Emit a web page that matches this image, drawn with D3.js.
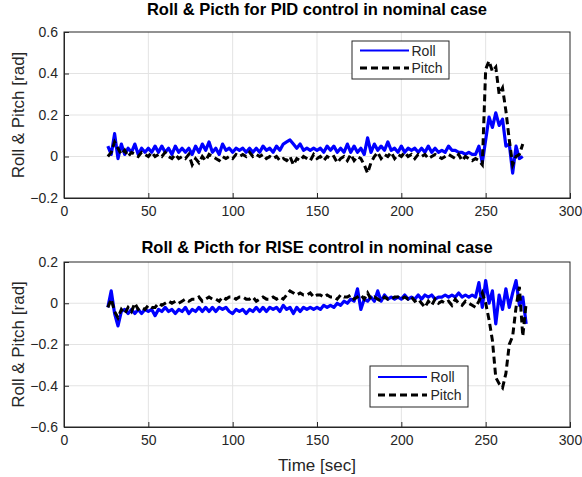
<!DOCTYPE html>
<html>
<head>
<meta charset="utf-8">
<script src="https://cdn.jsdelivr.net/npm/d3@7"></script>
<style>
  body { margin: 0; background: #fff; }
  text { font-family: "Liberation Sans", Arial, sans-serif; fill: #262626; }
</style>
</head>
<body>
<div id="container"></div>
<script>
let w = 582;
let h = 477;

// sample times [sec]
let timePID = [
  26,28,30,32,34,36,38,40,42,44, 46,48,50,52,54,56,58,60,62,64,
  66,68,70,72,74,76,78,80,82,84, 86,88,90,92,94,96,98,100,102,104,
  106,108,110,112,114,116,118,120,122,124, 126,128,130,132,134,136,138,140,142,144,
  146,148,150,152,154,156,158,160,162,164, 166,168,170,172,174,176,178,180,182,184,
  186,188,190,192,194,196,198,200,202,204, 206,208,210,212,214,216,218,220,222,224,
  226,228,230,232,234,236,238,240,242,244, 246,248,250,252,254,256,258,260,262,264,
  266,268,270,272
];
let timeRISE = timePID.concat([274]);

// PID control
let rollPID = [
  0.05,0.01,0.11,-0.01,0.06,0.01,0.04,0.02,0.06,0.01,
  0.04,0.02,0.04,0.02,0.05,0.02,0.05,0.02,0.04,0.01,
  0.05,0.02,0.04,0.02,0.04,0.01,0.05,0.02,0.06,0.03,
  0.07,0.02,0.04,0.01,0.06,0.03,0.04,0.02,0.04,0.03,
  0.04,0.02,0.04,0.02,0.04,0.02,0.05,0.03,0.04,0.02,
  0.05,0.03,0.06,0.07,0.08,0.06,0.04,0.06,0.03,0.04,
  0.03,0.04,0.03,0.04,0.02,0.05,0.03,0.05,0.02,0.04,
  0.02,0.06,0.02,0.05,0.02,0.04,0.01,0.09,0.02,0.06,
  0.03,0.05,0.03,0.07,0.03,0.04,0.02,0.05,0.02,0.04,
  0.03,0.04,0.02,0.04,0.02,0.05,0.02,0.04,0.02,0.03,
  0.02,0.05,0.03,0.03,0.02,0.02,0.01,0.02,0.01,0.01,
  0.05,-0.03,0.08,0.19,0.14,0.21,0.15,0.18,0.05,0.06,
  -0.08,0.05,-0.01,0.0
];
let pitchPID = [
  0.0,0.02,0.07,0.04,0.01,0.03,0.0,0.02,0.01,0.0,
  0.02,0.01,0.0,0.02,0.0,0.01,0.0,0.02,0.0,-0.01,
  0.01,-0.01,0.0,-0.01,0.01,-0.04,-0.01,-0.03,0.0,-0.02,
  0.01,0.0,-0.01,-0.02,0.0,-0.01,0.0,-0.01,0.01,0.0,
  0.01,0.0,0.02,0.0,0.01,0.0,0.01,-0.01,0.0,-0.01,
  0.0,-0.02,-0.01,-0.02,0.0,-0.04,-0.01,-0.02,0.0,-0.01,
  -0.02,0.01,-0.01,0.0,-0.02,0.0,-0.01,0.0,-0.03,-0.01,
  0.0,-0.02,0.01,-0.02,0.0,-0.01,-0.04,-0.08,-0.03,0.0,
  0.02,-0.01,0.01,0.0,0.02,-0.01,0.01,0.0,0.02,0.0,
  0.01,-0.01,0.01,0.0,0.01,-0.01,0.0,0.01,0.0,-0.01,
  0.0,0.01,0.0,-0.01,0.01,-0.02,0.0,-0.01,-0.02,-0.01,
  -0.02,-0.04,0.42,0.46,0.41,0.43,0.3,0.33,0.22,0.08,
  -0.04,0.0,0.01,0.06
];

// RISE control
let rollRISE = [
  -0.02,0.06,-0.05,-0.11,-0.04,-0.03,-0.05,-0.03,-0.05,-0.03,
  -0.05,-0.03,-0.04,-0.03,-0.06,-0.03,-0.04,-0.02,-0.04,-0.03,
  -0.05,-0.03,-0.04,-0.02,-0.05,-0.03,-0.04,-0.02,-0.04,-0.02,
  -0.04,-0.02,-0.04,-0.02,-0.03,-0.02,-0.04,-0.05,-0.03,-0.04,
  -0.03,-0.05,-0.03,-0.04,-0.02,-0.04,-0.02,-0.04,-0.02,-0.03,
  -0.02,-0.04,-0.01,-0.03,-0.02,-0.05,-0.02,-0.04,-0.02,-0.03,
  -0.02,-0.03,-0.02,-0.03,-0.01,-0.02,-0.01,-0.02,0.0,-0.01,
  0.01,0.0,0.02,0.01,0.07,-0.03,0.02,0.01,0.03,0.01,
  0.06,0.01,0.04,0.02,0.03,0.02,0.03,0.02,0.04,0.02,
  0.03,0.02,0.04,0.02,0.04,0.03,0.04,0.02,0.03,0.03,
  0.04,0.03,0.04,0.03,0.05,0.03,0.04,0.03,0.04,0.03,
  0.1,-0.02,0.11,0.0,0.06,-0.1,0.04,-0.03,0.07,-0.02,
  0.05,0.11,-0.01,0.03,-0.1
];
let pitchRISE = [
  -0.02,0.02,-0.04,-0.07,-0.03,-0.05,-0.02,-0.04,0.0,-0.03,
  -0.02,-0.03,-0.01,-0.02,-0.02,0.0,-0.01,0.0,0.01,0.0,
  0.01,0.0,0.01,0.02,0.01,0.02,0.02,0.03,0.01,0.02,
  0.03,0.02,0.02,0.01,0.03,0.02,0.03,0.03,0.02,0.03,
  0.03,0.02,0.02,0.03,0.01,0.02,0.03,0.02,0.02,0.03,
  0.02,0.03,0.02,0.04,0.06,0.05,0.04,0.05,0.04,0.04,
  0.05,0.03,0.04,0.04,0.03,0.04,0.03,0.03,0.02,0.04,
  0.03,0.03,0.04,0.02,0.03,0.04,0.02,0.05,0.02,0.03,
  0.02,0.01,0.03,0.02,0.02,0.03,0.03,0.02,0.03,0.02,
  0.03,0.01,0.02,0.0,-0.02,0.01,-0.01,0.02,0.0,0.01,
  0.0,0.01,-0.01,0.02,0.0,-0.01,0.01,0.0,-0.01,-0.02,
  0.01,0.05,0.0,-0.08,-0.18,-0.36,-0.39,-0.41,-0.34,-0.2,
  -0.16,-0.02,0.08,-0.16,0.0
];

let xTicks = [0, 50, 100, 150, 200, 250, 300];
let yTicksPID = [-0.2, 0, 0.2, 0.4, 0.6];
let yTicksRISE = [-0.6, -0.4, -0.2, 0, 0.2];
let seriesNames = ["Roll", "Pitch"];

let viz = d3.select("#container")
  .append("svg")
    .attr("width", w)
    .attr("height", h)
    .style("background-color", "#ffffff")
;

let left = 64, right = 570;

function drawPanel(id, title, titleY, top, bottom, yTicks, time, roll, pitch, leg){
    let x = d3.scaleLinear().domain([0, 300]).range([left, right]);
    let y = d3.scaleLinear().domain([yTicks[0], yTicks[yTicks.length-1]]).range([bottom, top]);

    let g = viz.append("g").attr("class", "panel");

    g.append("clipPath").attr("id", "clip" + id)
      .append("rect")
        .attr("x", left).attr("y", top)
        .attr("width", right-left).attr("height", bottom-top)
    ;

    // grid
    g.selectAll(".vgrid").data(xTicks.slice(1, -1)).enter()
      .append("line")
        .attr("x1", d => x(d)).attr("x2", d => x(d))
        .attr("y1", top).attr("y2", bottom)
        .attr("stroke", "#e3e3e3")
    ;
    g.selectAll(".hgrid").data(yTicks.slice(1, -1)).enter()
      .append("line")
        .attr("x1", left).attr("x2", right)
        .attr("y1", d => y(d)).attr("y2", d => y(d))
        .attr("stroke", "#e3e3e3")
    ;

    let line = d3.line().x(d => x(d[0])).y(d => y(d[1]));

    g.append("path")
        .datum(d3.zip(time, roll))
        .attr("d", line)
        .attr("fill", "none")
        .attr("stroke", "#0000ff")
        .attr("stroke-width", 3.2)
        .attr("stroke-linejoin", "round")
        .attr("clip-path", "url(#clip" + id + ")")
    ;
    g.append("path")
        .datum(d3.zip(time, pitch))
        .attr("d", line)
        .attr("fill", "none")
        .attr("stroke", "#000000")
        .attr("stroke-width", 3)
        .attr("stroke-dasharray", "7,4")
        .attr("clip-path", "url(#clip" + id + ")")
    ;

    // axes
    let xAxis = d3.axisBottom(x).tickValues(xTicks).tickSize(-5).tickPadding(8).tickFormat(d3.format("d"));
    let yAxis = d3.axisLeft(y).tickValues(yTicks).tickSize(-5).tickPadding(6).tickFormat(d => d == 0 ? "0" : d3.format(".1f")(d));

    g.append("g").attr("transform", "translate(0," + bottom + ")").call(xAxis);
    g.append("g").attr("transform", "translate(" + left + ",0)").call(yAxis);
    g.selectAll(".domain").attr("stroke", "#262626");
    g.selectAll(".tick line").attr("stroke", "#262626");
    g.selectAll(".tick text").attr("font-size", 14).attr("fill", "#262626")
      .style("font-family", "'Liberation Sans', Arial, sans-serif");

    // box
    g.append("rect")
        .attr("x", left).attr("y", top)
        .attr("width", right-left).attr("height", bottom-top)
        .attr("fill", "none")
        .attr("stroke", "#262626")
        .attr("stroke-width", 1)
    ;

    g.append("text")
        .attr("x", (left+right)/2).attr("y", titleY)
        .attr("text-anchor", "middle")
        .attr("font-size", 16.5)
        .attr("font-weight", "bold")
        .attr("fill", "#000")
        .style("fill", "#000")
        .text(title)
    ;

    g.append("text")
        .attr("transform", "translate(24," + ((top+bottom)/2) + ") rotate(-90)")
        .attr("text-anchor", "middle")
        .attr("font-size", 17)
        .text("Roll & Pitch [rad]")
    ;

    // legend
    let lg = g.append("g").attr("transform", "translate(" + leg.x + "," + leg.y + ")");
    lg.append("rect")
        .attr("width", leg.w).attr("height", leg.h)
        .attr("fill", "#fff")
        .attr("stroke", "#262626")
    ;
    let styles = [{c: "#0000ff", sw: 2.2, da: null}, {c: "#000", sw: 3, da: "7,4"}];
    seriesNames.forEach(function(name, i){
        lg.append("line")
            .attr("x1", 8).attr("x2", 57)
            .attr("y1", leg.rows[i]).attr("y2", leg.rows[i])
            .attr("stroke", styles[i].c)
            .attr("stroke-width", styles[i].sw)
            .attr("stroke-dasharray", styles[i].da)
        ;
        lg.append("text")
            .attr("x", leg.tx).attr("y", leg.rows[i] + 5)
            .attr("font-size", 14)
            .text(name)
        ;
    });
}

drawPanel("a", "Roll & Picth for PID control in nominal case", 15, 32, 198, yTicksPID, timePID, rollPID, pitchPID,
    {x: 352, y: 41, w: 97, h: 38, rows: [9.5, 27], tx: 59.5});
drawPanel("b", "Roll & Picth for RISE control in nominal case", 253, 262, 427, yTicksRISE, timeRISE, rollRISE, pitchRISE,
    {x: 370, y: 366, w: 98, h: 41, rows: [11, 29], tx: 60.5});

viz.append("text")
    .attr("x", (left+right)/2).attr("y", 471)
    .attr("text-anchor", "middle")
    .attr("font-size", 17)
    .text("Time [sec]")
;
</script>
</body>
</html>
